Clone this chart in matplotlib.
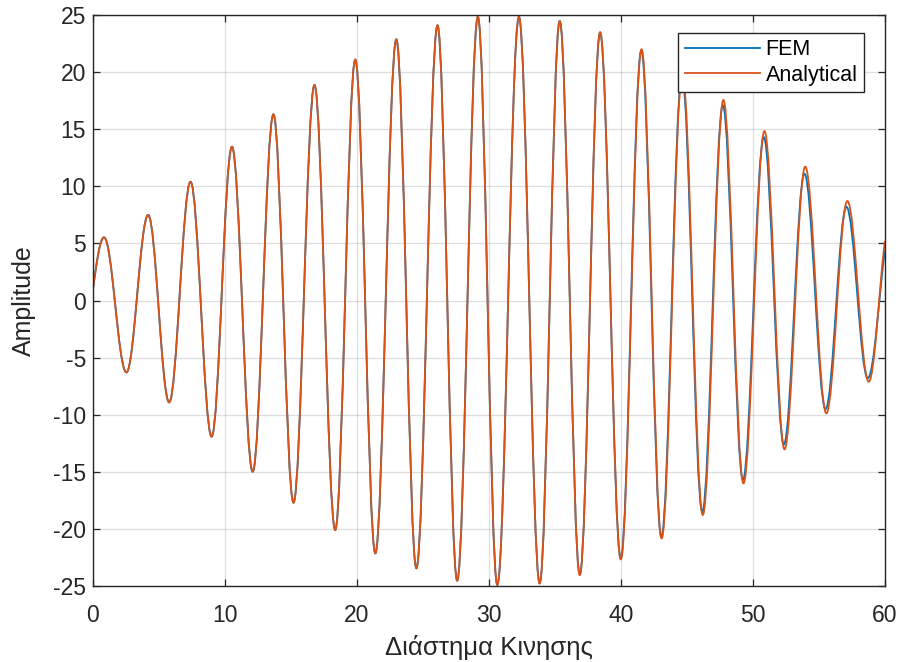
import matplotlib.pyplot as plt
from matplotlib.path import Path
from matplotlib.patches import PathPatch
from matplotlib.lines import Line2D

plt.rcParams["font.family"] = ["Liberation Sans", "DejaVu Sans"]
plt.rcParams["axes.unicode_minus"] = False

# turning points (x, amplitude)
ana_peak_x = [0.84, 4.18, 7.39, 10.53, 13.67, 16.78, 19.87, 22.98, 26.10, 29.16,
              32.27, 35.36, 38.42, 41.56, 44.65, 47.76, 50.87, 53.96, 57.15]
ana_peak_y = [5.53, 7.49, 10.40, 13.47, 16.30, 18.87, 21.10, 22.87, 24.10, 24.85,
              24.85, 24.47, 23.50, 22.00, 19.90, 17.56, 14.84, 11.72, 8.71]
ana_trough_x = [2.53, 5.77, 8.99, 12.10, 15.19, 18.35, 21.39, 24.50, 27.59, 30.63,
                33.84, 36.88, 39.99, 43.08, 46.20, 49.28, 52.39, 55.56, 58.77]
ana_trough_y = [-6.29, -8.92, -11.92, -14.99, -17.70, -20.10, -22.14, -23.45, -24.53, -24.90,
                -24.77, -24.04, -22.67, -20.83, -18.78, -16.01, -13.03, -9.88, -7.11]

fem_peak_x = [0.84, 4.18, 7.39, 10.53, 13.67, 16.78, 19.87, 22.98, 26.10, 29.16,
              32.27, 35.36, 38.42, 41.54, 44.62, 47.72, 50.82, 53.90, 57.08]
fem_peak_y = [5.53, 7.49, 10.40, 13.47, 16.30, 18.87, 21.10, 22.87, 24.10, 24.85,
              24.85, 24.47, 23.45, 21.90, 19.70, 17.10, 14.30, 11.10, 8.20]
fem_trough_x = [2.53, 5.77, 8.99, 12.10, 15.19, 18.35, 21.39, 24.50, 27.59, 30.63,
                33.84, 36.88, 39.98, 43.06, 46.16, 49.24, 52.34, 55.50, 58.70]
fem_trough_y = [-6.29, -8.92, -11.92, -14.99, -17.70, -20.10, -22.14, -23.45, -24.53, -24.90,
                -24.77, -24.00, -22.60, -20.70, -18.50, -15.70, -12.60, -9.50, -6.80]

# values and slopes where the curves meet the left / right edges
ana_start, ana_end = 1.0, 5.2
fem_start, fem_end = 1.0, 4.4
start_slope, end_slope = 8.5, 8.0

x_ticks = list(range(0, 61, 10))
y_ticks = list(range(-25, 26, 5))


def wave_path(xe, ye, x0, y0, s0, x1, y1, s1):
    """Bezier path through the turning points, flat tangent at each of them."""
    pts = sorted(zip(xe, ye))
    xs = [x0] + [p[0] for p in pts] + [x1]
    ys = [y0] + [p[1] for p in pts] + [y1]
    slopes = [s0] + [0.0] * len(pts) + [s1]
    verts = [(xs[0], ys[0])]
    codes = [Path.MOVETO]
    for i in range(len(xs) - 1):
        dx = xs[i + 1] - xs[i]
        k0 = 0.3634 if slopes[i] == 0 else 1 / 3
        k1 = 0.3634 if slopes[i + 1] == 0 else 1 / 3
        verts += [(xs[i] + k0 * dx, ys[i] + slopes[i] * k0 * dx),
                  (xs[i + 1] - k1 * dx, ys[i + 1] - slopes[i + 1] * k1 * dx),
                  (xs[i + 1], ys[i + 1])]
        codes += [Path.CURVE4] * 3
    return Path(verts, codes)


blue = "#0072BD"
orange = "#D95319"
dark = "#262626"

fig = plt.figure(figsize=(9.01, 6.62), dpi=100)
ax = fig.add_axes([0.1032, 0.1148, 0.879, 0.8625])

fem_path = wave_path(fem_peak_x + fem_trough_x, fem_peak_y + fem_trough_y,
                     0, fem_start, start_slope, 60, fem_end, end_slope)
ana_path = wave_path(ana_peak_x + ana_trough_x, ana_peak_y + ana_trough_y,
                     0, ana_start, start_slope, 60, ana_end, end_slope)
ax.add_patch(PathPatch(fem_path, fill=False, edgecolor=blue, lw=1.3))
ax.add_patch(PathPatch(ana_path, fill=False, edgecolor=orange, lw=1.3))

ax.set_xlim(0, 60)
ax.set_ylim(-25, 25)
ax.set_xticks(x_ticks)
ax.set_yticks(y_ticks)
ax.grid(True, color=dark, alpha=0.15, lw=0.9)
ax.set_axisbelow(True)
ax.tick_params(direction="in", top=True, right=True, length=5, width=0.9,
               colors=dark, labelsize=16.5)
ax.tick_params(axis="x", pad=13)
ax.tick_params(axis="y", pad=5)
for sp in ax.spines.values():
    sp.set_color(dark)
    sp.set_linewidth(1.0)

ax.set_xlabel("Διάστημα Κινησης", fontsize=18.5, color=dark, labelpad=6)
ax.set_ylabel("Amplitude", fontsize=18, color=dark, labelpad=12)

handles = [Line2D([], [], color=blue, lw=1.3), Line2D([], [], color=orange, lw=1.3)]
leg = ax.legend(handles, ["FEM", "Analytical"], loc="upper right",
                bbox_to_anchor=(0.9735, 0.9685), borderaxespad=0, fontsize=15.5,
                fancybox=False, framealpha=1, edgecolor=dark, handlelength=3.5,
                handletextpad=0.25, labelspacing=0.2, borderpad=0.3)
leg.get_frame().set_linewidth(1.0)

fig.savefig("out.png", dpi=100)
